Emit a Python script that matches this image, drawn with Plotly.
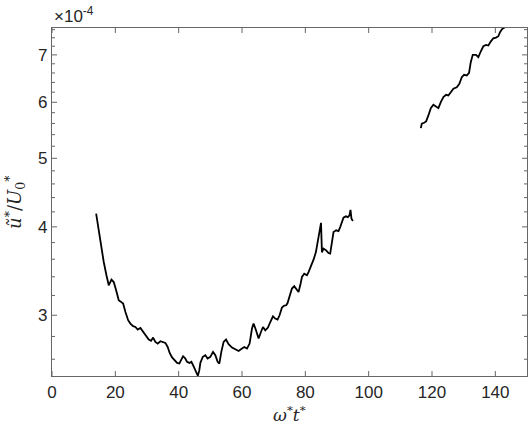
import math

import plotly.graph_objects as go

# time (omega* t*) and amplitude (units of 1e-4), first run
t_a = [13.94, 14.76, 15.52, 16.34, 17.19, 17.92, 18.77, 19.50, 20.25, 21.07,
       21.83, 22.46, 23.19, 24.04, 24.76, 25.62, 26.34, 27.07, 27.92, 28.77,
       29.72, 30.54, 31.29, 31.92, 32.65, 33.38, 34.23, 35.08, 35.80, 36.53,
       37.16, 37.92, 38.74, 39.50, 40.22, 40.76, 41.39, 42.11, 42.65, 43.38,
       44.01, 44.54, 45.27, 46.06, 46.53, 46.85, 47.63, 48.42, 49.15, 50.00,
       50.85, 51.58, 52.30, 52.84, 53.47, 54.20, 54.95, 55.77, 56.85, 57.89,
       58.93, 60.00, 60.73, 61.58, 62.40, 63.15, 63.66, 64.42, 65.24, 65.99,
       66.62, 67.35, 68.20, 68.93, 69.78, 70.50, 71.23, 71.86, 72.62, 73.34,
       73.97, 74.38, 75.02, 75.77, 76.50, 77.35, 77.85, 78.39, 78.93, 79.65,
       80.50, 81.01, 81.77, 82.59, 83.34, 84.16, 84.95, 85.24, 85.74, 86.59,
       87.32, 87.85, 88.39, 88.90, 89.75, 90.47, 91.01, 91.55, 92.05, 92.81,
       93.44, 93.94, 94.26, 94.57, 95.02]
u_a = [4.175, 3.955, 3.746, 3.568, 3.417, 3.307, 3.369, 3.343, 3.254, 3.150,
       3.133, 3.116, 3.032, 2.952, 2.920, 2.895, 2.888, 2.864, 2.879, 2.841,
       2.802, 2.772, 2.760, 2.790, 2.751, 2.736, 2.757, 2.751, 2.742, 2.706,
       2.654, 2.615, 2.592, 2.569, 2.564, 2.598, 2.626, 2.606, 2.578, 2.569,
       2.578, 2.550, 2.509, 2.464, 2.509, 2.570, 2.621, 2.634, 2.606, 2.620,
       2.663, 2.634, 2.578, 2.564, 2.663, 2.751, 2.772, 2.730, 2.701, 2.684,
       2.671, 2.692, 2.706, 2.692, 2.736, 2.873, 2.920, 2.857, 2.781, 2.841,
       2.888, 2.857, 2.882, 2.935, 2.990, 2.968, 2.958, 3.000, 3.076, 3.096,
       3.099, 3.122, 3.184, 3.272, 3.297, 3.261, 3.236, 3.307, 3.398, 3.435,
       3.417, 3.453, 3.518, 3.595, 3.685, 3.849, 4.052, 3.682, 3.726, 3.706,
       3.673, 3.666, 3.828, 3.933, 3.955, 3.946, 3.997, 4.063, 4.121, 4.139,
       4.129, 4.152, 4.227, 4.108, 4.076]

# second run
t_b = [116.47, 116.78, 117.51, 118.14, 118.86, 119.62, 120.44, 121.29, 122.02,
       122.78, 123.60, 124.45, 125.17, 125.93, 126.75, 127.82, 128.64, 129.40,
       130.13, 130.98, 131.70, 132.24, 132.87, 133.91, 134.64, 135.39, 136.21,
       137.07, 137.79, 138.55, 139.37, 140.22, 140.95, 141.48, 142.33, 142.90]
u_b = [5.515, 5.595, 5.613, 5.637, 5.748, 5.886, 5.951, 5.924, 5.886,
       6.002, 6.100, 6.148, 6.134, 6.200, 6.269, 6.301, 6.371, 6.510,
       6.561, 6.546, 6.603, 6.835, 7.001, 7.001, 6.947, 7.077, 7.200,
       7.232, 7.216, 7.310, 7.389, 7.406, 7.438, 7.535, 7.633, 7.640]

x_ticks = [0, 20, 40, 60, 80, 100, 120, 140]
y_ticks = [3, 4, 5, 6, 7]
# log-axis ticks every 0.2 (x 1e-4), only the integers get a label
y_all = [round(2.6 + 0.2 * i, 1) for i in range(26)]
y_text = [str(int(v)) if v in y_ticks else "" for v in y_all]

FONT = "Liberation Sans, Arial, Helvetica, sans-serif"
AX = "#262626"
LN = "#666666"
X_RANGE = [0, 150]
y_range = [math.log10(2.462), math.log10(7.64)]

fig = go.Figure()
for t, u in ((t_a, u_a), (t_b, u_b)):
    fig.add_trace(go.Scatter(x=t, y=u, mode="lines", showlegend=False,
                             line=dict(color="black", width=1.8)))

# inward tick marks on all four sides (MATLAB box style)
tick_shapes = []
for v in x_ticks:
    fx = (v - X_RANGE[0]) / (X_RANGE[1] - X_RANGE[0])
    for anchor, length in ((0, 5), (1, -5)):
        tick_shapes.append(dict(
            type="line", xref="paper", yref="paper", x0=fx, x1=fx,
            ysizemode="pixel", yanchor=anchor, y0=0, y1=length,
            line=dict(color=LN, width=1)))
for v in y_all:
    fy = (math.log10(v) - y_range[0]) / (y_range[1] - y_range[0])
    if not 0 <= fy <= 1:
        continue
    length = 5 if v in y_ticks else 3
    for anchor, sign in ((0, 1), (1, -1)):
        tick_shapes.append(dict(
            type="line", xref="paper", yref="paper", y0=fy, y1=fy,
            xsizemode="pixel", xanchor=anchor, x0=0, x1=sign * length,
            line=dict(color=LN, width=1)))

fig.update_layout(
    template="none",
    width=530, height=427,
    margin=dict(l=52, r=3, t=28, b=51),
    paper_bgcolor="white", plot_bgcolor="white",
    font=dict(family=FONT, size=17, color=AX),
    shapes=tick_shapes,
    annotations=[
        dict(text="×10<sup>-4</sup>", xref="paper", yref="paper",
             x=0.0, y=1.0, xanchor="left", yanchor="bottom",
             showarrow=False, font=dict(size=17, color=AX)),
        dict(text="<i>ω</i><sup>*</sup><i>t</i><sup>*</sup>", xref="paper",
             yref="paper", x=0.5, y=-0.11, xanchor="center", yanchor="middle",
             showarrow=False, font=dict(family="DejaVu Serif", size=17, color=AX)),
        dict(text="<i>ũ</i><sup>*</sup>/<i>U</i><sub>0</sub><sup>*</sup>",
             xref="paper", yref="paper", x=-0.078, y=0.5, textangle=-90,
             xanchor="center", yanchor="middle", showarrow=False,
             font=dict(family="DejaVu Serif", size=18, color=AX)),
    ],
    xaxis=dict(range=X_RANGE, tickmode="array", tickvals=x_ticks,
               ticks="", showline=True, linecolor=LN, linewidth=1.2,
               mirror=True, showgrid=False, zeroline=False, automargin=False),
    yaxis=dict(type="log", range=y_range, tickmode="array",
               tickvals=y_all, ticktext=y_text, ticks="",
               showline=True, linecolor=LN, linewidth=1.2, mirror=True,
               showgrid=False, zeroline=False, automargin=False),
)

fig.write_html("out.html", config={"displayModeBar": False},
               post_script="document.body.style.margin='0px';")
